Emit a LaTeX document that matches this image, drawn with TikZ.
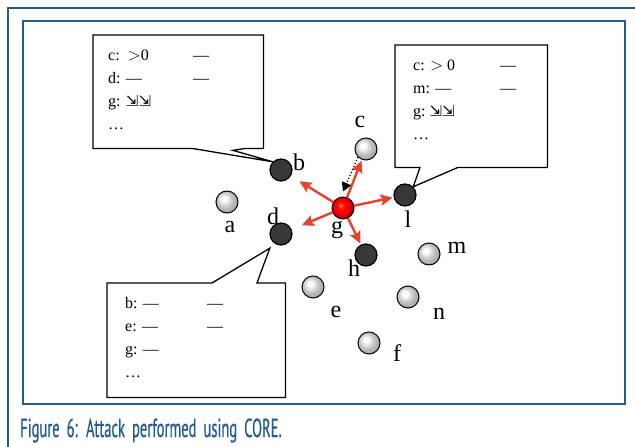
\documentclass[tikz,border=0pt]{standalone}
\usepackage{xcolor}
\usepackage{fontspec}
\setmainfont{Liberation Serif}
\newfontfamily\capfont[FakeStretch=0.56, WordSpace=1.8, FakeBold=0.6]{PT Sans}
\newfontfamily\symfont{DejaVu Sans}
\usepackage{tikz}
\usetikzlibrary{arrows.meta, positioning, calc}
\definecolor{frameblue}{RGB}{36,90,148}
\definecolor{attackred}{RGB}{232,66,42}
\pgfdeclareradialshading{peerball}{\pgfqpoint{-8bp}{8bp}}{color(0bp)=(white); color(5bp)=(white); color(18bp)=(gray!50); color(25bp)=(gray!65); color(50bp)=(gray!80)}
\pgfdeclareradialshading{attackerball}{\pgfqpoint{-6bp}{6bp}}{color(0bp)=(red!55!white); color(7bp)=(red!90!orange); color(20bp)=(red!90!black); color(25bp)=(red!70!black); color(50bp)=(black)}
\tikzstyle{peer} = [circle, minimum size=22pt, inner sep=0pt, draw=black, line width=1pt, shading=peerball]
\tikzstyle{neighbour} = [circle, minimum size=22pt, inner sep=0pt, draw=black, line width=1.2pt, fill=black!78]
\tikzstyle{attacker} = [circle, minimum size=22pt, inner sep=0pt, draw=black, line width=1pt, shading=attackerball]
\tikzstyle{lbl} = [inner sep=0pt, font=\fontsize{24}{24}\selectfont]
\tikzstyle{attack} = [attackred, line width=2.4pt, -{Stealth[length=12pt,width=11pt,inset=2pt]}]
\tikzstyle{probe} = [black, line width=1.2pt, dotted, -{Triangle[length=9pt,width=10pt]}]
\tikzstyle{callout} = [draw=black, line width=1.3pt, fill=white, line join=miter]
\tikzstyle{bubble} = [rectangle, inner sep=0pt, anchor=north west]
\tikzstyle{table} = [anchor=north west, inner sep=0pt, align=left, font=\fontsize{16}{23}\selectfont]
\tikzstyle{frame} = [draw=frameblue, line width=1.5pt]

\begin{document}
\begin{tikzpicture}[x=1pt, y=-1pt]
	\useasboundingbox (0,0) rectangle (635,447);
	% frame
	\draw[frame] (8,447) -- (8,8) -- (635,8);
	\draw[frame] (23,21) rectangle (625,404);
	
	% nodes
	\node (a) [peer] at (227,202) {};
	\node (b) [neighbour] at (281,170) {};
	\node (c) [peer] at (366,149) {};
	\node (d) [neighbour] at (281,234) {};
	\node (g) [attacker] at (343,208) {};
	\node (h) [neighbour] at (366,255) {};
	\node (l) [neighbour] at (405,195) {};
	\node (m) [peer] at (429,254) {};
	\node (e) [peer] at (313,287) {};
	\node (n) [peer] at (408,297) {};
	\node (f) [peer] at (369,343) {};
	
	% labels
	\node (a-text) [lbl] at (230,227) {a};
	\node (b-text) [lbl] at (299,162) {b};
	\node (c-text) [lbl] at (360,122) {c};
	\node (d-text) [lbl] at (273,216) {d};
	\node (g-text) [lbl] at (337,230) {g};
	\node (h-text) [lbl] at (354,268) {h};
	\node (l-text) [lbl] at (408,219) {l};
	\node (m-text) [lbl] at (457,248) {m};
	\node (e-text) [lbl] at (336,312) {e};
	\node (n-text) [lbl] at (439,314) {n};
	\node (f-text) [lbl] at (397,353) {f};
	
	% callouts
	\node (b-box) [bubble, minimum width=170pt, minimum height=113pt] at (93,35) {};
	\draw[callout] (b-box.south west) -- (b-box.north west) -- (b-box.north east) -- (b-box.south east)
		-- ($(b-box.south west)+(152,0)$) -- ($(b-box.south west)+(140,2)$) -- (b.north west)
		-- ($(b-box.south west)+(99,0)$) -- cycle;
	\node (b-table) [table] at ([xshift=15pt,yshift=-9pt] b-box.north west) {%
		\begin{tabular}{@{}p{85pt}@{}l@{}}
			c:\ \ $>$0 & --- \\
			d: --- & --- \\
			g: {\symfont\fontsize{15}{23}\selectfont ⇲⇲} & \\
			\dots & \\
		\end{tabular}};
	
	\node (l-box) [bubble, minimum width=152pt, minimum height=122pt] at (395,45) {};
	\draw[callout] (l-box.south west) -- (l-box.north west) -- (l-box.north east) -- (l-box.south east)
		-- ($(l-box.south west)+(63,0)$) -- (l.north east)
		-- ($(l-box.south west)+(25,0)$) -- cycle;
	\node (l-table) [table] at ([xshift=18pt,yshift=-9pt] l-box.north west) {%
		\begin{tabular}{@{}p{87pt}@{}l@{}}
			c: $>$ 0 & --- \\
			m: --- & --- \\
			g:\ {\symfont\fontsize{15}{23}\selectfont ⇲⇲} & \\
			\dots & \\
		\end{tabular}};
	
	\node (d-box) [bubble, minimum width=178pt, minimum height=114pt] at (107,283) {};
	\draw[callout] (d-box.north west) -- ($(d-box.north west)+(105,0)$) -- ([shift={(-3pt,-6pt)}] d.south west)
		-- ($(d-box.north west)+(150,0)$) -- (d-box.north east) -- (d-box.south east)
		-- (d-box.south west) -- cycle;
	\node (d-table) [table] at ([xshift=18pt,yshift=-9pt] d-box.north west) {%
		\begin{tabular}{@{}p{82pt}@{}l@{}}
			b: --- & --- \\
			e: --- & --- \\
			g: --- & \\
			\dots & \\
		\end{tabular}};
	
	% arrows
	\draw [attack, shorten >=10pt] (g) -- (b);
	\draw [attack, shorten >=1pt] (g) -- (c);
	\draw [attack, shorten >=1pt] (g) -- (l);
	\draw [attack, shorten >=11pt] (g) -- (d);
	\draw [attack, shorten >=1pt] (g) -- (h);
	\draw [probe] (c.south west) -- ([yshift=5pt] g.north);
	
	% caption
	\node (caption) [anchor=base west, inner sep=0pt, text=frameblue, font=\capfont\fontsize{26}{26}\selectfont] at (20,437) {Figure 6: Attack performed using CORE.};
\end{tikzpicture}
\end{document}
